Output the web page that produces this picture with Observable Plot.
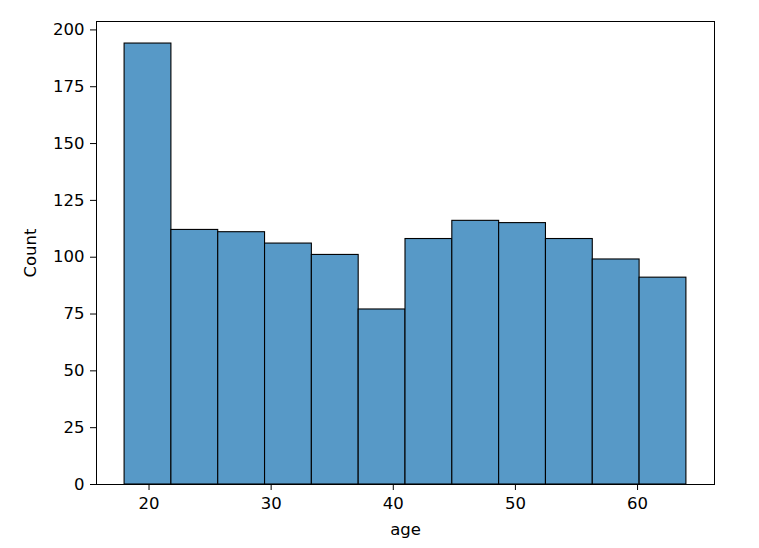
<!DOCTYPE html>
<html>
<head>
<meta charset="utf-8">
<script src="https://cdn.jsdelivr.net/npm/d3@7"></script>
<script src="https://cdn.jsdelivr.net/npm/@observablehq/plot@0.6"></script>
<style>
  html, body { margin: 0; padding: 0; background: #fff; }
  #chart { width: 759px; height: 548px; }
</style>
</head>
<body>
<div id="chart"></div>
<script>
// Histogram of age (12 bins from 18 to 64)
const binLower = [18, 21.8333, 25.6667, 29.5, 33.3333, 37.1667, 41, 44.8333, 48.6667, 52.5, 56.3333, 60.1667];
const binUpper = [21.8333, 25.6667, 29.5, 33.3333, 37.1667, 41, 44.8333, 48.6667, 52.5, 56.3333, 60.1667, 64];
const counts = [194, 112, 111, 106, 101, 77, 108, 116, 115, 108, 99, 91];
const xTicks = [20, 30, 40, 50, 60];
const yTicks = [0, 25, 50, 75, 100, 125, 150, 175, 200];

const data = counts.map((c, i) => ({x1: binLower[i], x2: binUpper[i], count: c}));

const chart = Plot.plot({
  width: 759,
  height: 548,
  marginLeft: 96,
  marginRight: 45,
  marginTop: 21,
  marginBottom: 64,
  style: {fontFamily: "DejaVu Sans", fontSize: "16.5px", color: "#000", background: "#fff"},
  x: {domain: [15.7, 66.3], ticks: xTicks, tickSize: 6, tickPadding: 7, label: "age", labelArrow: "none", labelAnchor: "center", labelOffset: 50},
  y: {domain: [0, 203.7], ticks: yTicks, tickSize: 6, tickPadding: 6, label: "Count", labelArrow: "none", labelAnchor: "center", labelOffset: 72},
  marks: [
    Plot.rectY(data, {x1: "x1", x2: "x2", y: "count", fill: "#5799c7", stroke: "#000", strokeWidth: 1.1, inset: 0}),
    Plot.frame({stroke: "#000", strokeWidth: 1})
  ]
});
document.getElementById("chart").appendChild(chart);
</script>
</body>
</html>
